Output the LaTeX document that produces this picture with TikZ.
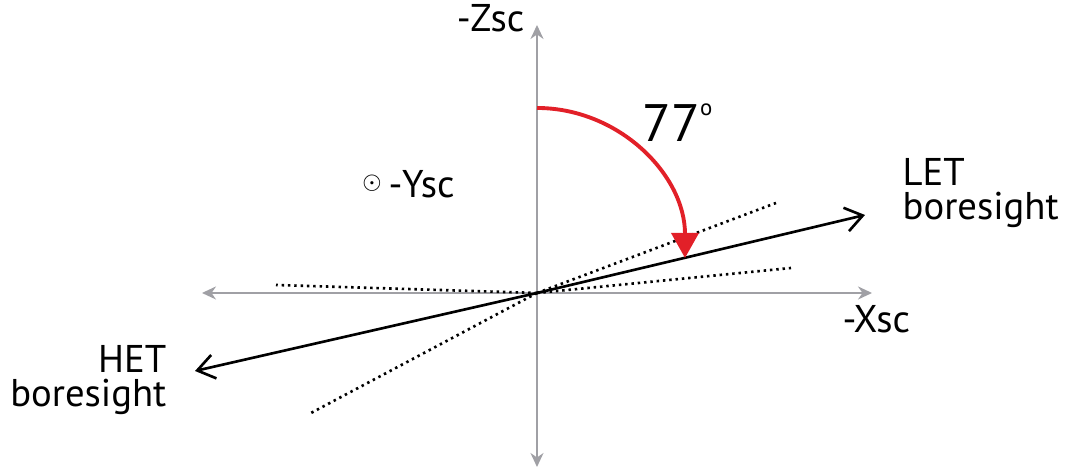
\documentclass[tikz,border=0pt]{standalone}
\usepackage{fontspec}
\setmainfont{PT Sans}
\usetikzlibrary{arrows.meta}

\definecolor{axisgray}{RGB}{160,160,165}
\definecolor{arcred}{RGB}{226,32,40}

\begin{document}
\begin{tikzpicture}[
    axis/.style={draw=axisgray, line width=0.6pt,
        {Stealth[length=1.4mm, width=1.3mm]}-{Stealth[length=1.4mm, width=1.3mm]}},
    bore/.style={line width=0.75pt, -{Straight Barb[length=1.7mm, width=2.4mm]}},
    fov/.style={line width=0.75pt, dash pattern=on 0.7pt off 1.1pt},
    sweep/.style={draw=arcred, line width=1.1pt, -{Triangle[length=2.5mm, width=2.7mm]}},
    lbl/.style={font=\fontsize{11}{9.9}\selectfont, inner sep=0pt}
]
    \useasboundingbox (0,0) rectangle (10.65,4.69);

    % --- Origin and axis end points ---
    \coordinate (O) at (5.37,1.76);
    \coordinate (zup) at (5.37,4.44);
    \coordinate (zdown) at (5.37,0.02);
    \coordinate (xleft) at (2.02,1.76);
    \coordinate (xright) at (8.72,1.76);

    % --- Axes ---
    \draw[axis] (zdown) -- (zup);
    \draw[axis] (xleft) -- (xright);

    % --- Field of view edges ---
    \foreach \p in {(2.76,1.84), (3.11,0.56), (7.76,2.66), (7.91,2.01)}
        \draw[fov] (O) -- \p;

    % --- Boresights (13 deg above -Xsc) ---
    \coordinate (lettip) at (8.65,2.54);
    \coordinate (hettip) at (1.95,0.98);
    \draw[bore] (O) -- (lettip);
    \draw[bore] (O) -- (hettip);

    % --- Rotation from -Zsc down to LET boresight ---
    \coordinate (arcstart) at (5.37,3.61);
    \coordinate (arcend) at (6.85,2.11);
    \draw[sweep] (arcstart) .. controls (6.19,3.61) and (6.85,2.94) .. (arcend);
    \node[font=\fontsize{15}{15}\selectfont, anchor=base west, inner sep=0pt]
        (angle) at (6.42,3.27) {77\raisebox{7.6pt}{\fontsize{6.5}{6}\selectfont o}};

    % --- Labels ---
    \node[lbl, anchor=base east] (zlbl) at (5.25,4.37) {-Zsc};
    \node[lbl, anchor=base west] (xlbl) at (8.42,1.36) {-Xsc};
    \node[inner sep=0pt, font=\fontsize{6.5}{6}\selectfont] (ysym) at (3.72,2.86) {$\odot$};
    \node[lbl, anchor=base west] (ylbl) at (3.88,2.71) {-Ysc};
    \node[lbl, align=left, anchor=base west] (letlbl) at (9.02,2.49) {LET\\boresight};
    \node[lbl, align=right, anchor=base east] (hetlbl) at (1.67,0.62) {HET\\boresight};
\end{tikzpicture}
\end{document}
